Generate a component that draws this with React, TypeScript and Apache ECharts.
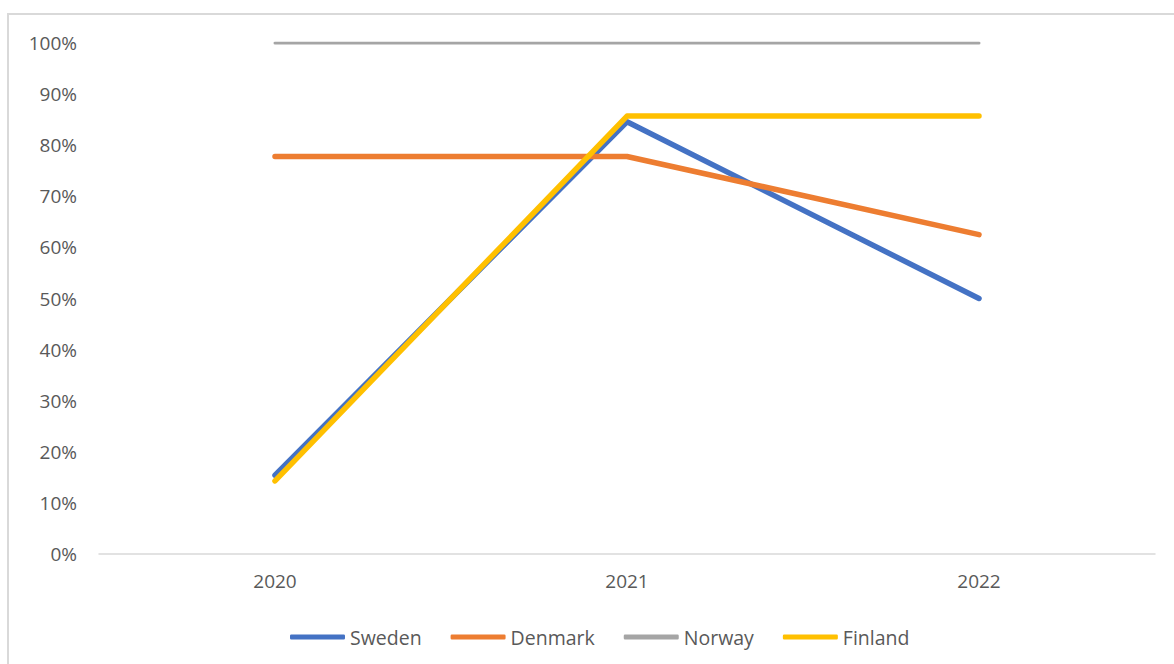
import React, { useEffect, useRef } from "react";
import * as echarts from "echarts";

// Share per year, in percent
const years = ["2020", "2021", "2022"];
const sweden = [15.4, 84.6, 50.0];
const denmark = [77.8, 77.8, 62.5];
const norway = [100, 100, 100];
const finland = [14.3, 85.7, 85.7];

const seriesNames = ["Sweden", "Denmark", "Norway", "Finland"];
const seriesColors = ["#4472C4", "#ED7D31", "#A5A5A5", "#FFC000"];
const seriesData = [sweden, denmark, norway, finland];
const seriesWidths = [5.5, 5.5, 3, 5.5];

const FONT = "'Open Sans', 'Noto Sans', sans-serif";
const TEXT = "#595959";

export default function App() {
  const ref = useRef<HTMLDivElement>(null);

  useEffect(() => {
    if (!ref.current) return;
    const chart = echarts.init(ref.current, null, { renderer: "svg" });
    chart.setOption({
      animation: false,
      backgroundColor: "#ffffff",
      textStyle: { fontFamily: FONT },
      graphic: [
        {
          type: "rect",
          shape: { x: 8, y: 14, width: 1200, height: 700 },
          style: { fill: "none", stroke: "#D9D9D9", lineWidth: 2 },
          silent: true,
        },
      ],
      grid: { left: 99, right: 19, top: 43, bottom: 110, containLabel: false },
      legend: {
        left: 285,
        top: 622,
        itemWidth: 55,
        itemHeight: 5,
        itemGap: 29,
        icon: "roundRect",
        textStyle: { fontFamily: FONT, fontSize: 19.5, color: TEXT },
        data: seriesNames,
      },
      xAxis: {
        type: "category",
        data: years,
        boundaryGap: true,
        axisLine: { show: true, lineStyle: { color: "#D9D9D9", width: 1.5 } },
        axisTick: { show: false },
        axisLabel: { fontFamily: FONT, fontSize: 19, color: TEXT, margin: 17 },
        splitLine: { show: false },
      },
      yAxis: {
        type: "value",
        min: 0,
        max: 100,
        interval: 10,
        axisLine: { show: false },
        axisTick: { show: false },
        splitLine: { show: false },
        axisLabel: {
          fontFamily: FONT,
          fontSize: 19,
          color: TEXT,
          margin: 22,
          formatter: "{value}%",
        },
      },
      series: seriesNames.map((name, i) => ({
        name,
        type: "line",
        data: seriesData[i],
        showSymbol: false,
        symbol: "none",
        color: seriesColors[i],
        lineStyle: {
          color: seriesColors[i],
          width: seriesWidths[i],
          cap: "round",
          join: "round",
        },
      })),
    });
    return () => chart.dispose();
  }, []);

  return (
    <div
      ref={ref}
      style={{ position: "fixed", left: 0, top: 0, width: 1174, height: 664 }}
    />
  );
}
